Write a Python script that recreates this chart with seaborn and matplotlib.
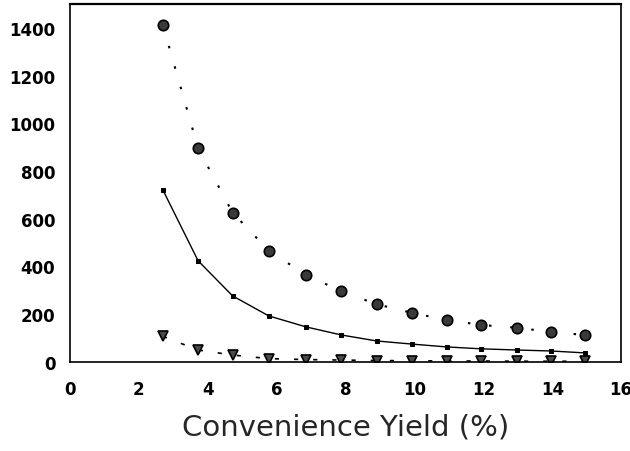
import numpy as np
import pandas as pd
import matplotlib
matplotlib.use("Agg")
import matplotlib.pyplot as plt
import seaborn as sns

# Data
yield_pct = [2.7, 3.72, 4.72, 5.77, 6.85, 7.88, 8.9, 9.92, 10.93, 11.94, 12.98, 13.96, 14.94]
circles = [1410, 895, 626, 466, 365, 296, 242, 206, 176, 155, 143, 126, 113]
solid = [720, 424, 277, 193, 147, 113, 88, 75, 63, 55, 50, 46, 38]
triangles = [107, 50, 29, 14, 10, 8, 6, 5, 4, 4, 3, 3, 3]

x_ticks = [0, 2, 4, 6, 8, 10, 12, 14, 16]
y_ticks = [0, 200, 400, 600, 800, 1000, 1200, 1400]
x_label = "Convenience Yield (%)"

sns.set_style("white")
plt.rcParams['font.family'] = ['DejaVu Sans']

fig = plt.figure(figsize=(6.3, 4.52), dpi=100)
ax = fig.add_axes([0.111, 0.197, 0.875, 0.792])

df = pd.DataFrame({"x": yield_pct, "c": circles, "s": solid, "t": triangles})

sns.lineplot(data=df, x="x", y="c", ax=ax, color="black", lw=1.5,
             linestyle=(0, (1.2, 9)), marker="o", markersize=7.5,
             markerfacecolor="#3a3a3a", markeredgecolor="black", markeredgewidth=1.2)
sns.lineplot(data=df, x="x", y="s", ax=ax, color="black", lw=1.0,
             marker="s", markersize=2.5, markerfacecolor="black", markeredgecolor="black")
sns.lineplot(data=df, x="x", y="t", ax=ax, color="black", lw=1.2,
             linestyle=(0, (2.5, 9)), marker="v", markersize=7.5,
             markerfacecolor="#4a4a4a", markeredgecolor="black", markeredgewidth=1.2)

ax.set_xlim(0, 16)
ax.set_ylim(0, 1500)
ax.set_xticks(x_ticks)
ax.set_yticks(y_ticks)
ax.set_xticklabels([str(v) for v in x_ticks], fontsize=12, fontweight="bold")
ax.set_yticklabels([str(v) for v in y_ticks], fontsize=12, fontweight="bold")
ax.tick_params(direction="inout", width=1.0, colors="black")
ax.tick_params(axis="x", length=9.5, pad=8)
ax.tick_params(axis="y", length=15, pad=3)
ax.set_xlabel(x_label, fontsize=21, labelpad=11)
ax.set_ylabel("")
for sp in ax.spines.values():
    sp.set_visible(True)
    sp.set_color("black")
    sp.set_linewidth(1.2)
ax.spines["top"].set_linewidth(1.6)

fig.savefig("out.png", dpi=100)
